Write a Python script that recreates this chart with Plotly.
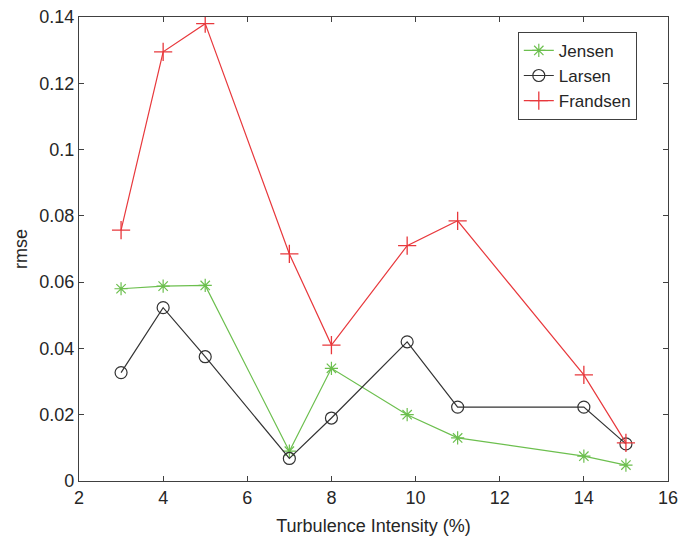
import plotly.graph_objects as go

x = [3, 4, 5, 7, 8, 9.8, 11, 14, 15]
jensen = [0.058, 0.0588, 0.059, 0.009, 0.034, 0.020, 0.013, 0.0075, 0.0048]
larsen = [0.0327, 0.0523, 0.0375, 0.0068, 0.019, 0.042, 0.0223, 0.0223, 0.0112]
frandsen = [0.0757, 0.1295, 0.138, 0.0685, 0.041, 0.071, 0.0785, 0.032, 0.0115]

xticks = [2, 4, 6, 8, 10, 12, 14, 16]
yticks = [0, 0.02, 0.04, 0.06, 0.08, 0.1, 0.12, 0.14]
ytick_text = ["0", "0.02", "0.04", "0.06", "0.08", "0.1", "0.12", "0.14"]

FONT = "Liberation Sans, Arial"
TXT = "#262626"

fig = go.Figure()
fig.add_trace(go.Scatter(x=x, y=jensen, name="Jensen", mode="lines+markers",
                         line=dict(color="#6cbf4e", width=1.2),
                         marker=dict(symbol="asterisk-open", size=11, color="#6cbf4e", line=dict(width=1.2, color="#6cbf4e"))))
fig.add_trace(go.Scatter(x=x, y=larsen, name="Larsen", mode="lines+markers",
                         line=dict(color="#333333", width=1.2),
                         marker=dict(symbol="circle-open", size=12, color="#333333", line=dict(width=1.2, color="#333333"))))
fig.add_trace(go.Scatter(x=x, y=frandsen, name="Frandsen", mode="lines+markers",
                         line=dict(color="#e8383c", width=1.2),
                         marker=dict(symbol="cross-thin-open", size=13, color="#e8383c", line=dict(width=1.3, color="#e8383c"))))

axis_common = dict(showline=True, linecolor="#404040", linewidth=1.3, mirror="ticks",
                   ticks="inside", ticklen=5, tickcolor="#404040", showgrid=False, zeroline=False,
                   automargin=False, tickfont=dict(family=FONT, size=18, color=TXT))

fig.update_xaxes(range=[2, 16], tickvals=xticks, title=dict(text="Turbulence Intensity (%)",
                 font=dict(family=FONT, size=18, color=TXT), standoff=12), **axis_common)
fig.update_yaxes(range=[0, 0.14], tickvals=yticks, ticktext=ytick_text, title=dict(text="rmse",
                 font=dict(family=FONT, size=18, color=TXT), standoff=6), **axis_common)

fig.update_layout(width=683, height=537, margin=dict(l=79, r=15, t=17, b=56),
                  paper_bgcolor="white", plot_bgcolor="white",
                  legend=dict(x=0.745, y=0.968, xanchor="left", yanchor="top",
                              bordercolor="#404040", borderwidth=1, bgcolor="white",
                              font=dict(family=FONT, size=17, color=TXT),
                              tracegroupgap=0, itemwidth=30))

fig.write_html("out.html")
